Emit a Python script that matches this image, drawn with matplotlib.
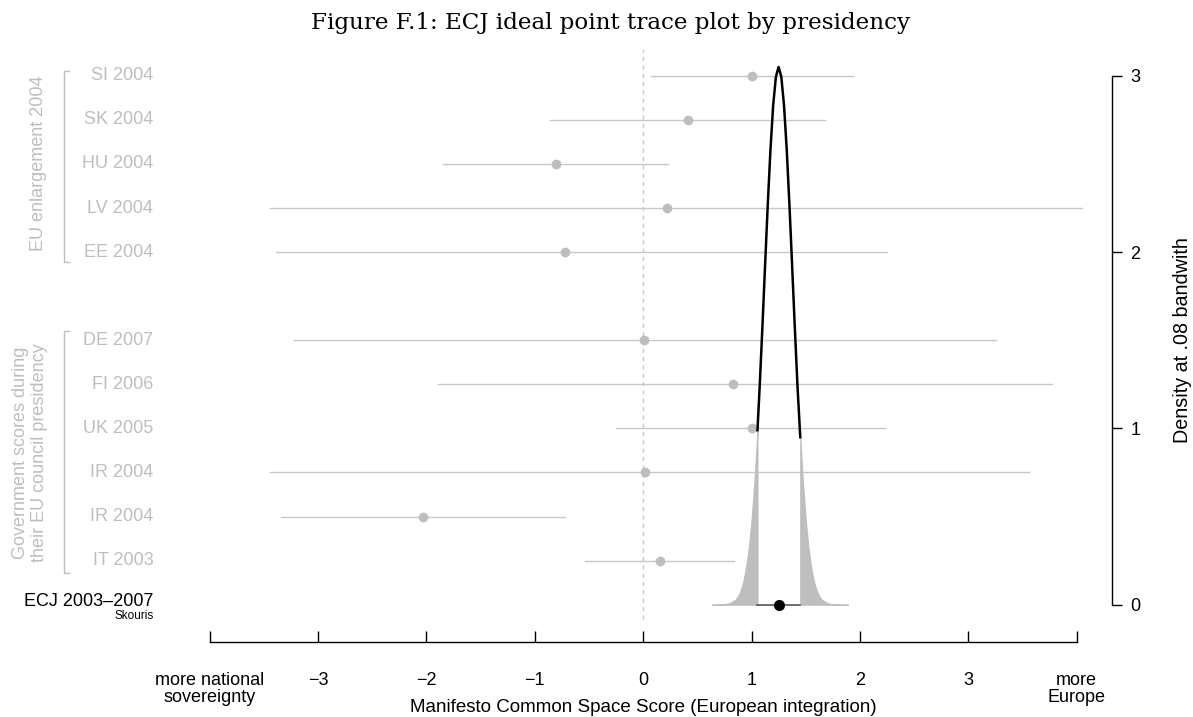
import matplotlib
matplotlib.use("Agg")
import matplotlib.pyplot as plt

# ---------------- data ----------------
labels = ["SI 2004", "SK 2004", "HU 2004", "LV 2004", "EE 2004",
          "DE 2007", "FI 2006", "UK 2005", "IR 2004", "IR 2004", "IT 2003"]
point = [1.00, 0.41, -0.80, 0.22, -0.72, 0.01, 0.83, 1.00, 0.02, -2.03, 0.16]
low = [0.07, -0.86, -1.85, -3.44, -3.39, -3.22, -1.89, -0.25, -3.44, -3.34, -0.54]
high = [1.94, 1.68, 0.23, 4.05, 2.25, 3.26, 3.77, 2.23, 3.56, -0.72, 0.84]

ecj_label = "ECJ 2003\u20132007"
ecj_sub = "Skouris"
ecj_point = 1.25
ecj_low = 1.055
ecj_high = 1.45

dens_x = [0.635, 0.70, 0.75, 0.80, 0.85, 0.875, 0.90, 0.925, 0.95, 0.975, 1.00,
          1.025, 1.05, 1.055, 1.075, 1.10, 1.125, 1.15, 1.175, 1.20, 1.225, 1.25,
          1.275, 1.30, 1.325, 1.35, 1.375, 1.40, 1.425, 1.45, 1.475, 1.50,
          1.525, 1.55, 1.575, 1.60, 1.625, 1.65, 1.70, 1.75, 1.80, 1.89]
dens_y = [0.0, 0.001, 0.003, 0.009, 0.028, 0.048, 0.081, 0.134, 0.213, 0.325, 0.480,
          0.682, 0.934, 0.99, 1.232, 1.567, 1.921, 2.269, 2.582, 2.833, 2.994, 3.05,
          2.994, 2.833, 2.582, 2.269, 1.921, 1.567, 1.232, 0.950, 0.690, 0.485,
          0.328, 0.215, 0.135, 0.082, 0.049, 0.028, 0.009, 0.003, 0.001, 0.0]

xtick_vals = [-4, -3, -2, -1, 0, 1, 2, 3, 4]
xtick_labels = ["more national\nsovereignty", "\u22123", "\u22122", "\u22121", "0",
                "1", "2", "3", "more\nEurope"]
dens_ticks = [0, 1, 2, 3]

title = "Figure F.1: ECJ ideal point trace plot by presidency"
xlabel = "Manifesto Common Space Score (European integration)"
ylabel_right = "Density at .08 bandwith"
group1 = "EU enlargement 2004"
group2 = "Government scores during\ntheir EU council presidency"

# ---------------- style ----------------
plt.rcParams['font.family'] = ['Liberation Sans', 'DejaVu Sans']
GRAY = "#BEBEBE"
LGRAY = "#C8C8C8"
W, H = 1193, 717

fig = plt.figure(figsize=(W / 100, H / 100), dpi=100)
ax = fig.add_axes([209.7 / W, 1 - 641.7 / H, 902 / W, 610 / H])
ax.set_xlim(-4, 4.324)
ybot, ytop = -0.839, 13.0
ax.set_ylim(ybot, ytop)

rows = [12, 11, 10, 9, 8, 6, 5, 4, 3, 2, 1]

# zero reference line
ax.plot([0, 0], [-0.32, 12.6], color=LGRAY, lw=1, ls=(0, (3, 3)), zorder=1)

for lab, p, lo, hi, r in zip(labels, point, low, high, rows):
    ax.plot([lo, hi], [r, r], color=LGRAY, lw=1.0, zorder=2, clip_on=False)
    ax.plot([p], [r], 'o', color=GRAY, ms=6, zorder=3)
    ax.text(-4.52, r, lab, ha='right', va='center', color=GRAY, fontsize=13,
            clip_on=False)

ax.text(-4.52, 0.08, ecj_label, ha='right', va='center', color='black', fontsize=13,
        clip_on=False)
ax.text(-4.52, -0.26, ecj_sub, ha='right', va='center', color='black', fontsize=8.5,
        clip_on=False)

# density on twin axis
ax2 = ax.twinx()
ax2.set_ylim(ybot / 4, ytop / 4)
left_x = [x for x in dens_x if x <= ecj_low]
left_y = [y for x, y in zip(dens_x, dens_y) if x <= ecj_low]
right_x = [x for x in dens_x if x >= ecj_high]
right_y = [y for x, y in zip(dens_x, dens_y) if x >= ecj_high]
mid_x = [x for x in dens_x if ecj_low <= x <= ecj_high]
mid_y = [y for x, y in zip(dens_x, dens_y) if ecj_low <= x <= ecj_high]
ax2.fill_between(left_x, 0, left_y, color=GRAY, lw=0.8, edgecolor=GRAY, zorder=2)
ax2.fill_between(right_x, 0, right_y, color=GRAY, lw=0.8, edgecolor=GRAY, zorder=2)
ax2.plot(mid_x, mid_y, color='black', lw=1.8, zorder=4)
ax2.plot([ecj_low, ecj_high], [0, 0], color='#555555', lw=1.2, zorder=5)
ax2.plot([ecj_point], [0], 'o', color='black', ms=7, zorder=6)

# axes styling
for s in ['top', 'left', 'right']:
    ax.spines[s].set_visible(False)
for s in ['top', 'left', 'bottom']:
    ax2.spines[s].set_visible(False)
ax.spines['bottom'].set_bounds(-4, 4)
ax.spines['bottom'].set_linewidth(1)
ax.set_xticks(xtick_vals)
ax.set_xticklabels(xtick_labels, linespacing=1.0)
ax.tick_params(axis='x', direction='in', length=8, width=1, pad=21.6, labelsize=13)
ax.set_yticks([])

ax2.spines['right'].set_bounds(0, 3)
ax2.spines['right'].set_linewidth(1)
ax2.set_yticks(dens_ticks)
ax2.set_yticklabels([str(t) for t in dens_ticks])
ax2.tick_params(axis='y', direction='out', length=7.5, width=1, pad=6, labelsize=13)

# group brackets
bx, tx = -5.348, -5.295
for top, bot in [(12.1, 7.78), (6.2, 0.71)]:
    ax.plot([tx, bx, bx, tx], [top, top, bot, bot], color=GRAY, lw=1, clip_on=False)

fig.text(39 / W, 1 - 163 / H, group1, rotation=90, ha='center', va='center',
         color=GRAY, fontsize=13)
fig.text(30 / W, 1 - 453 / H, group2, rotation=90, ha='center', va='center',
         color=GRAY, fontsize=13, multialignment='center', linespacing=1.22)

fig.text(643 / W, 1 - 707.5 / H, xlabel, ha='center', va='center', fontsize=13.5)
fig.text(1182 / W, 1 - 340 / H, ylabel_right, rotation=90, ha='center', va='center',
         fontsize=14.2)
t = fig.text(610.5 / W, 1 - 29.5 / H, title, ha='center', va='baseline', fontsize=16,
             family=['DejaVu Serif'])
fig.canvas.draw()
w = t.get_window_extent(renderer=fig.canvas.get_renderer()).width
t.set_fontsize(16 * 600 / w)

fig.savefig("out.png", dpi=100)
